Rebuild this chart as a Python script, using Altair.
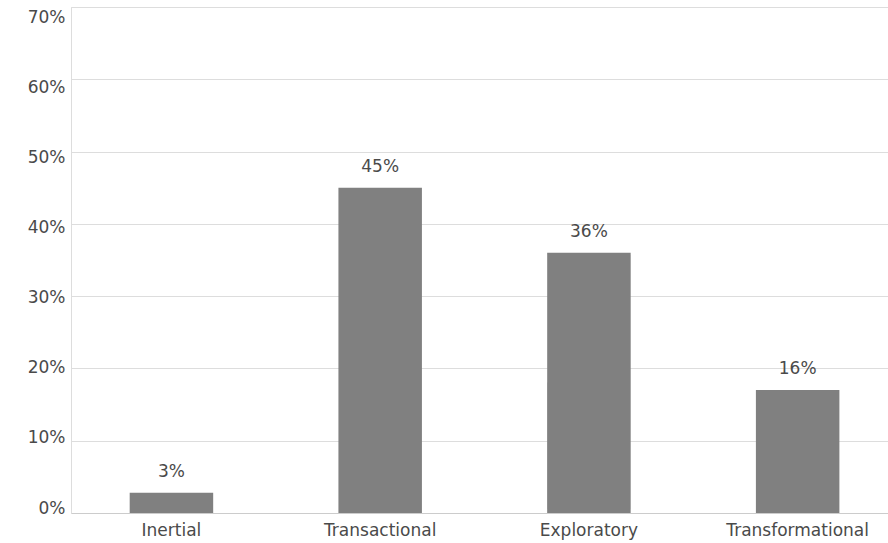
import altair as alt
import pandas as pd

categories = ["Inertial", "Transactional", "Exploratory", "Transformational"]
values = [2.8, 45, 36, 17]
labels = ["3%", "45%", "36%", "16%"]
y_ticks = [0, 10, 20, 30, 40, 50, 60, 70]

df = pd.DataFrame({"cat": categories, "val": values, "lab": labels})

FONT = "DejaVu Sans"
FS = 17

x = alt.X("cat:N", sort=categories, title=None,
          scale=alt.Scale(paddingInner=0.6, paddingOuter=0.257, align=0.547),
          axis=alt.Axis(labelAngle=0, ticks=False, domainColor="#cccccc", labelFontSize=FS,
                        labelColor="#4a4a4a", labelFont=FONT, labelPadding=9, grid=False))
y = alt.Y("val:Q", title=None,
          scale=alt.Scale(domain=[0, 70], nice=False),
          axis=alt.Axis(values=y_ticks, labelExpr="datum.value + '%'",
                        labelOffset={"condition": {"test": "datum.value >= 0", "expr": "-5 + 0.215 * datum.value"}, "value": 0},
                        ticks=False, domainColor="#dddddd", gridColor="#dddddd", labelFontSize=FS,
                        labelColor="#4a4a4a", labelFont=FONT, labelPadding=6))

bars = alt.Chart(df).mark_bar(color="#808080").encode(x=x, y=y)
text = alt.Chart(df).mark_text(baseline="bottom", dy=-12, fontSize=FS, color="#4a4a4a", font=FONT).encode(
    x=alt.X("cat:N", sort=categories), y="val:Q", text="lab:N")

chart = (bars + text).properties(
    width=817, height=506,
    autosize=alt.AutoSizeParams(type="none"),
    padding={"left": 71, "top": 7, "right": 0, "bottom": 30},
).configure_view(stroke=None).configure(background="white")

chart.save("out.html", embed_options={"renderer": "svg", "actions": False})
